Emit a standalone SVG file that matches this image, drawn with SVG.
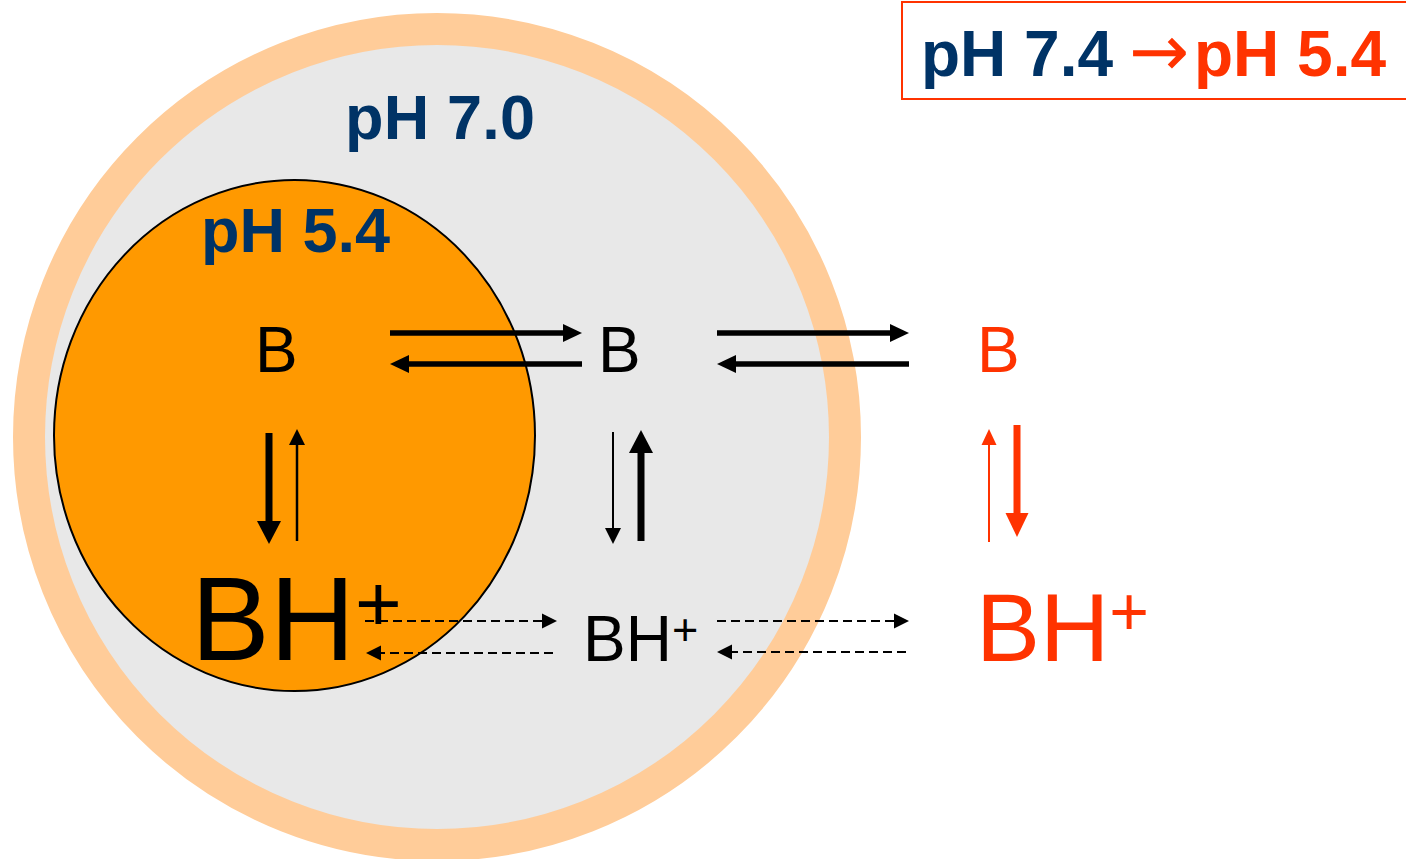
<svg xmlns="http://www.w3.org/2000/svg" width="1406" height="859" viewBox="0 0 1406 859">
<style>
text{font-family:"Liberation Sans",Arial,sans-serif}
.ph{font-weight:bold;font-size:63px;fill:#003366}
.red{fill:#FF3300}
.blk{fill:#000}
.ln{stroke:#000;fill:none}
.lnr{stroke:#FF3300;fill:none}
.dash{stroke:#000;stroke-width:2;stroke-dasharray:9 5;fill:none}
</style>
<defs>
<marker id="hH" markerUnits="userSpaceOnUse" markerWidth="19" markerHeight="18" refX="0" refY="9" orient="auto" overflow="visible"><path d="M0,0 L19,9 L0,18 Z" fill="#000"/></marker>
<marker id="hThick" markerUnits="userSpaceOnUse" markerWidth="23" markerHeight="24" refX="0" refY="12" orient="auto" overflow="visible"><path d="M0,0 L23,12 L0,24 Z" fill="#000"/></marker>
<marker id="hThin" markerUnits="userSpaceOnUse" markerWidth="16" markerHeight="16" refX="0" refY="8" orient="auto" overflow="visible"><path d="M0,0 L16,8 L0,16 Z" fill="#000"/></marker>
<marker id="hThickR" markerUnits="userSpaceOnUse" markerWidth="24" markerHeight="23" refX="0" refY="11.5" orient="auto" overflow="visible"><path d="M0,0 L24,11.5 L0,23 Z" fill="#FF3300"/></marker>
<marker id="hThinR" markerUnits="userSpaceOnUse" markerWidth="16" markerHeight="15" refX="0" refY="7.5" orient="auto" overflow="visible"><path d="M0,0 L16,7.5 L0,15 Z" fill="#FF3300"/></marker>
<marker id="hDash" markerUnits="userSpaceOnUse" markerWidth="15" markerHeight="15" refX="0" refY="7.5" orient="auto" overflow="visible"><path d="M0,0 L15,7.5 L0,15 Z" fill="#000"/></marker>
</defs>
<rect width="1406" height="859" fill="#fff"/>
<g id="cell">
<circle cx="437" cy="437" r="408" fill="#E8E8E8" stroke="#FFCC99" stroke-width="32"/>
</g>
<g id="lysosome">
<ellipse cx="294.5" cy="435.5" rx="240.5" ry="255.5" fill="#FF9900" stroke="#000" stroke-width="2"/>
</g>
<g id="label-ph70"><text class="ph" x="345" y="139" textLength="190">pH 7.0</text></g>
<g id="label-ph54"><text class="ph" x="201" y="252">pH 5.4</text></g>
<g id="title">
<rect x="902" y="2" width="1502" height="97" fill="#fff" stroke="#FF3300" stroke-width="2"/>
<text font-weight="bold" font-size="64" y="76"><tspan x="921" fill="#003366">pH 7.4 </tspan><tspan x="1129" fill="#FF3300" font-family="'DejaVu Sans',sans-serif" font-weight="normal" font-size="72">→</tspan><tspan x="1194" fill="#FF3300">pH 5.4</tspan></text>
</g>
<g id="B-lyso"><text class="blk" x="255" y="372" font-size="64">B</text></g>
<g id="B-cyto"><text class="blk" x="598" y="372" font-size="64">B</text></g>
<g id="B-ext"><text class="red" x="977" y="372" font-size="64">B</text></g>
<g id="BH-lyso"><text class="blk" x="191" y="660" font-size="118">BH<tspan font-size="80" dy="-29">+</tspan></text></g>
<g id="BH-cyto"><text class="blk" x="583" y="661" font-size="64">BH<tspan font-size="45" dy="-16">+</tspan></text></g>
<g id="BH-ext"><text class="red" x="976" y="661" font-size="96">BH<tspan font-size="68" dy="-26">+</tspan></text></g>
<g id="connectors">
<line class="ln" stroke-width="5.5" x1="390" y1="333" x2="563" y2="333" marker-end="url(#hH)"/>
<line class="ln" stroke-width="5.5" x1="582" y1="364" x2="409" y2="364" marker-end="url(#hH)"/>
<line class="ln" stroke-width="5.5" x1="717" y1="333" x2="890" y2="333" marker-end="url(#hH)"/>
<line class="ln" stroke-width="5.5" x1="909" y1="364" x2="736" y2="364" marker-end="url(#hH)"/>
<line class="ln" stroke-width="7" x1="269" y1="433" x2="269" y2="521" marker-end="url(#hThick)"/>
<line class="ln" stroke-width="2.5" x1="297" y1="541" x2="297" y2="445" marker-end="url(#hThin)"/>
<line class="ln" stroke-width="2" x1="613" y1="432" x2="613" y2="528" marker-end="url(#hThin)"/>
<line class="ln" stroke-width="7" x1="641" y1="541" x2="641" y2="453" marker-end="url(#hThick)"/>
<line class="lnr" stroke-width="2" x1="989" y1="542" x2="989" y2="445" marker-end="url(#hThinR)"/>
<line class="lnr" stroke-width="7" x1="1017" y1="425" x2="1017" y2="513" marker-end="url(#hThickR)"/>
<line class="dash" x1="365" y1="621" x2="542" y2="621" marker-end="url(#hDash)"/>
<line class="dash" x1="553" y1="653" x2="381" y2="653" marker-end="url(#hDash)"/>
<line class="dash" x1="717" y1="621" x2="894" y2="621" marker-end="url(#hDash)"/>
<line class="dash" x1="906" y1="652" x2="732" y2="652" marker-end="url(#hDash)"/>
</g>
</svg>
